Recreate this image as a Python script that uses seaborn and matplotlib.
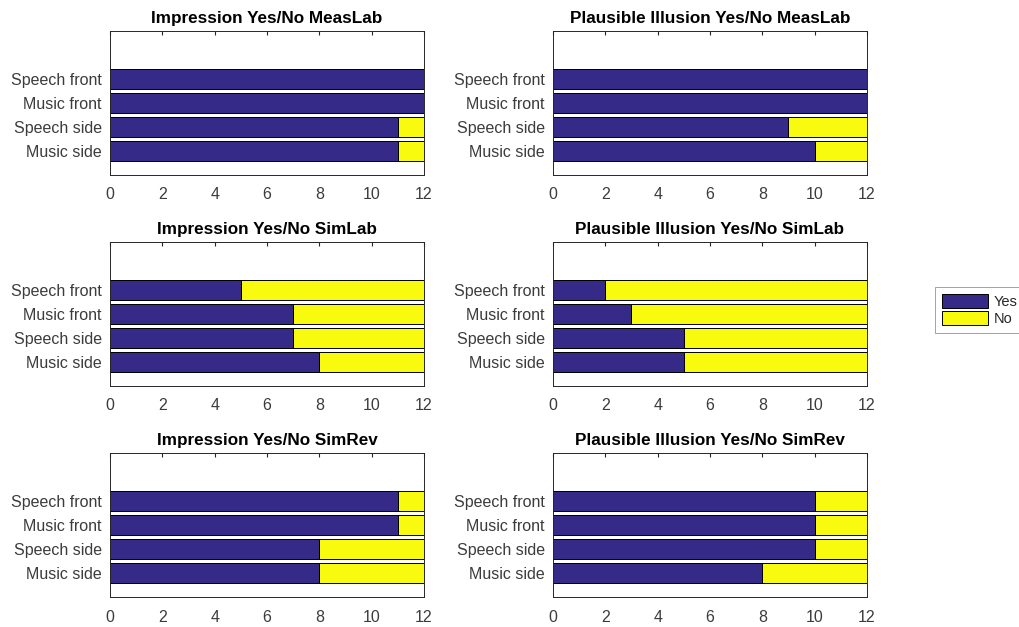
import pandas as pd
import seaborn as sns
import matplotlib.pyplot as plt
from matplotlib.patches import Patch

sns.set_style("white")
plt.rcParams["font.family"] = ["Liberation Sans", "DejaVu Sans"]

conditions = ["Speech front", "Music front", "Speech side", "Music side"]
answers = ["Yes", "No"]

# yes / no counts per condition (12 listeners each)
imp_measlab_yes = [12, 12, 11, 11]
imp_measlab_no = [0, 0, 1, 1]
pla_measlab_yes = [12, 12, 9, 10]
pla_measlab_no = [0, 0, 3, 2]
imp_simlab_yes = [5, 7, 7, 8]
imp_simlab_no = [7, 5, 5, 4]
pla_simlab_yes = [2, 3, 5, 5]
pla_simlab_no = [10, 9, 7, 7]
imp_simrev_yes = [11, 11, 8, 8]
imp_simrev_no = [1, 1, 4, 4]
pla_simrev_yes = [10, 10, 10, 8]
pla_simrev_no = [2, 2, 2, 4]

panels = [
    ("Impression Yes/No MeasLab", imp_measlab_yes, imp_measlab_no),
    ("Plausible Illusion Yes/No MeasLab", pla_measlab_yes, pla_measlab_no),
    ("Impression Yes/No SimLab", imp_simlab_yes, imp_simlab_no),
    ("Plausible Illusion Yes/No SimLab", pla_simlab_yes, pla_simlab_no),
    ("Impression Yes/No SimRev", imp_simrev_yes, imp_simrev_no),
    ("Plausible Illusion Yes/No SimRev", pla_simrev_yes, pla_simrev_no),
]

navy = "#352a87"
yellow = "#f9fb0e"
grey = "#262626"
labgrey = "#3c3c3c"

W, H = 1020, 627
fig = plt.figure(figsize=(W / 100, H / 100), dpi=100)

lefts = [110, 553]
tops = [31, 242, 453]
aw, ah = 314, 144

for i, (title, yes, no) in enumerate(panels):
    r, c = divmod(i, 2)
    ax = fig.add_axes([lefts[c] / W, 1 - (tops[r] + ah) / H, aw / W, ah / H])
    df = pd.DataFrame({"Condition": conditions, "Yes": yes, "No": no})
    df["Total"] = df["Yes"] + df["No"]
    # yellow full-length bar underneath, navy "yes" part on top -> stacked look
    sns.barplot(data=df, x="Total", y="Condition", color=yellow, saturation=1,
                edgecolor="black", linewidth=0.7, width=0.8, ax=ax)
    sns.barplot(data=df, x="Yes", y="Condition", color=navy, saturation=1,
                edgecolor="black", linewidth=0.7, width=0.8, ax=ax)
    ax.set_xlim(0, 12)
    ax.set_ylim(4, -2)
    ax.set_xticks(range(0, 13, 2))
    ax.set_xlabel("")
    ax.set_ylabel("")
    ax.set_title(title, fontsize=12.3, fontweight="bold", color="black", pad=6)
    ax.tick_params(axis="x", direction="in", top=True, length=3, labelsize=11.5,
                   color=grey, labelcolor=labgrey, pad=9)
    ax.tick_params(axis="y", length=0, labelsize=11.5, labelcolor=labgrey, pad=6)
    for sp in ax.spines.values():
        sp.set_color(grey)
        sp.set_linewidth(0.7)

handles = [Patch(facecolor=navy, edgecolor="black", linewidth=0.7, label=answers[0]),
           Patch(facecolor=yellow, edgecolor="black", linewidth=0.7, label=answers[1])]
leg = fig.legend(handles=handles, loc="upper left", bbox_to_anchor=(935 / W, 1 - 287 / H),
                 frameon=True, fancybox=False, fontsize=10.5, handlelength=3.2,
                 handleheight=1.1, borderaxespad=0, borderpad=0.45, labelspacing=0.2,
                 handletextpad=0.4)
leg.get_frame().set_edgecolor("#8c8c8c")
leg.get_frame().set_linewidth(0.7)

fig.savefig("out.png", dpi=100)
